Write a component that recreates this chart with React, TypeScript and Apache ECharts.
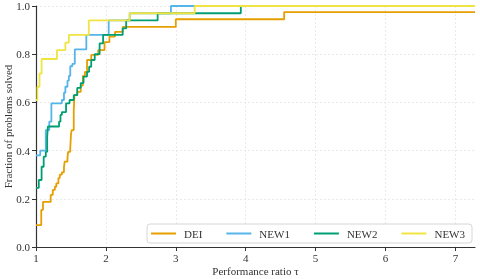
import React, { useEffect, useRef } from "react";
import * as echarts from "echarts";

const seriesNames = ["DEI", "NEW1", "NEW2", "NEW3"];
const colors = ["#E69F00", "#56B4E9", "#009E73", "#F0E442"];

const deiTau = [1, 1.075, 1.1, 1.21, 1.24, 1.27, 1.29, 1.32, 1.34, 1.37, 1.4, 1.41, 1.45, 1.46, 1.49, 1.5, 1.51, 1.54, 1.55, 1.59, 1.64, 1.67, 1.7, 1.73, 1.79, 1.89, 1.98, 2.05, 2.13, 2.24, 3.0, 4.55, 7.28];
const deiVal = [0.091, 0.154, 0.187, 0.216, 0.237, 0.25, 0.264, 0.286, 0.3, 0.31, 0.33, 0.354, 0.37, 0.395, 0.41, 0.465, 0.485, 0.568, 0.63, 0.644, 0.67, 0.71, 0.727, 0.776, 0.797, 0.817, 0.85, 0.873, 0.893, 0.913, 0.945, 0.975, 0.975];

const new1Tau = [1, 1.06, 1.14, 1.19, 1.22, 1.37, 1.4, 1.42, 1.45, 1.47, 1.49, 1.52, 1.555, 1.72, 2.04, 2.34, 2.93, 7.28];
const new1Val = [0.38, 0.4, 0.485, 0.52, 0.596, 0.61, 0.64, 0.665, 0.69, 0.71, 0.75, 0.76, 0.82, 0.88, 0.94, 0.97, 1.0, 1.0];

const new2Tau = [1, 1.04, 1.08, 1.11, 1.14, 1.16, 1.17, 1.33, 1.35, 1.37, 1.43, 1.48, 1.54, 1.59, 1.64, 1.68, 1.73, 1.76, 1.79, 1.84, 1.91, 1.96, 2.24, 2.29, 2.74, 3.93, 7.28];
const new2Val = [0.245, 0.278, 0.333, 0.375, 0.395, 0.458, 0.5, 0.52, 0.548, 0.56, 0.596, 0.61, 0.63, 0.66, 0.68, 0.707, 0.727, 0.748, 0.776, 0.8, 0.845, 0.88, 0.907, 0.94, 0.97, 1.0, 1.0];

const new3Tau = [1, 1.02, 1.05, 1.08, 1.3, 1.42, 1.47, 1.755, 2.34, 3.27, 7.28];
const new3Val = [0.61, 0.665, 0.72, 0.78, 0.817, 0.848, 0.88, 0.94, 0.97, 1.0, 1.0];

const xTicks = [1, 2, 3, 4, 5, 6, 7];
const xMax = 7.28;

const FONT = "Liberation Serif";

export default function App() {
  const ref = useRef<HTMLDivElement>(null);
  useEffect(() => {
    if (!ref.current) return;
    const chart = echarts.init(ref.current, null, { renderer: "svg" });
    const taus = [deiTau, new1Tau, new2Tau, new3Tau];
    const vals = [deiVal, new1Val, new2Val, new3Val];
    chart.setOption({
      animation: false,
      textStyle: { fontFamily: FONT },
      grid: { left: 36, right: 5, top: 6, bottom: 32, containLabel: false, outerBoundsMode: "none" },
      legend: {
        data: seriesNames,
        right: 8,
        bottom: 36,
        orient: "horizontal",
        icon: "rect",
        itemWidth: 25,
        itemHeight: 2,
        itemGap: 24,
        padding: [4, 7, 4, 4],
        borderColor: "#d6d6d6",
        borderWidth: 1,
        borderRadius: 3,
        backgroundColor: "#ffffff",
        textStyle: { fontFamily: FONT, fontSize: 11, color: "#333", padding: [0, 0, 0, 3] },
      },
      xAxis: {
        type: "value",
        min: 1,
        max: xMax,
        interval: 1,
        name: "Performance ratio τ",
        nameLocation: "middle",
        nameGap: 18,
        nameMoveOverlap: false,
        nameTextStyle: { fontFamily: FONT, fontSize: 11, color: "#333" },
        axisLine: { show: true, onZero: false, lineStyle: { color: "#333", width: 1.2 } },
        axisTick: { show: true, length: 4, customValues: xTicks, lineStyle: { color: "#333" } },
        axisLabel: { customValues: xTicks, fontFamily: FONT, fontSize: 11, color: "#333", margin: 5 },
        splitLine: { show: true, lineStyle: { color: "#e4e4e4", type: [2, 2], width: 0.8 } },
      },
      yAxis: {
        type: "value",
        min: 0,
        max: 1,
        interval: 0.2,
        name: "Fraction of problems solved",
        nameLocation: "middle",
        nameGap: 23,
        nameMoveOverlap: false,
        nameTextStyle: { fontFamily: FONT, fontSize: 11, color: "#333" },
        axisLine: { show: true, lineStyle: { color: "#333", width: 1.2 } },
        axisTick: { show: true, length: 4, lineStyle: { color: "#333" } },
        axisLabel: {
          fontFamily: FONT,
          fontSize: 11,
          color: "#333",
          margin: 6,
          formatter: (v: number) => v.toFixed(1),
        },
        splitLine: { show: true, lineStyle: { color: "#e4e4e4", type: [2, 2], width: 0.8 } },
      },
      series: seriesNames.map((name, i) => ({
        name,
        type: "line",
        step: "end",
        showSymbol: false,
        symbol: "none",
        clip: false,
        color: colors[i],
        lineStyle: { color: colors[i], width: 1.8 },
        data: taus[i].map((t, j) => [t, vals[i][j]]),
      })),
    });
    return () => chart.dispose();
  }, []);
  return (
    <div
      ref={ref}
      style={{ position: "fixed", left: 0, top: 0, width: 480, height: 279 }}
    />
  );
}
